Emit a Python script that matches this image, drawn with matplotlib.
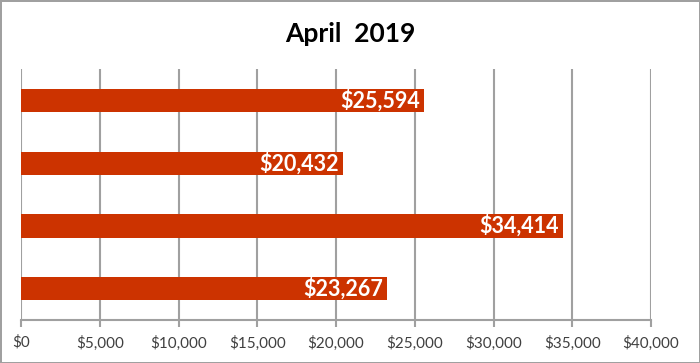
import matplotlib
matplotlib.use("Agg")
import matplotlib.pyplot as plt
from matplotlib.ticker import FuncFormatter

plt.rcParams['font.family'] = ['Lato', 'DejaVu Sans']

# data (top to bottom)
rows = ["A", "B", "C", "D"]
values = [25594, 20432, 34414, 23267]
title = "April  2019"

fig = plt.figure(figsize=(7, 3.63), dpi=100)
ax = fig.add_axes([0.03, 0.118, 0.9, 0.692])

ypos = list(range(len(rows)))[::-1]
ax.barh(ypos, values, height=0.37, color="#CC3300", zorder=3)
for y, v in zip(ypos, values):
    ax.text(v - 250, y, f"${v:,}", ha="right", va="center",
            color="white", fontsize=15.5, fontweight="bold", zorder=4)

ax.set_xlim(0, 40000)
ax.set_ylim(-0.5, len(rows) - 0.5)
ax.set_xticks(range(0, 40001, 5000))
ax.xaxis.set_major_formatter(FuncFormatter(lambda x, p: f"${int(x):,}"))
ax.set_yticks([])
ax.grid(axis="x", color="#A0A0A0", linewidth=1.5, zorder=0)
for s in ["top", "right", "left"]:
    ax.spines[s].set_visible(False)
ax.spines["bottom"].set_color("#A0A0A0")
ax.spines["bottom"].set_linewidth(1.5)
ax.tick_params(axis="x", length=5, width=1.5, color="#A0A0A0",
               labelsize=11, labelcolor="#404040", pad=6)

fig.text(0.5, 0.905, title, ha="center", va="center", fontsize=19, fontweight="bold")

fig.patch.set_edgecolor("#A0A0A0")
fig.patch.set_linewidth(2)
fig.savefig("out.png", dpi=100)
